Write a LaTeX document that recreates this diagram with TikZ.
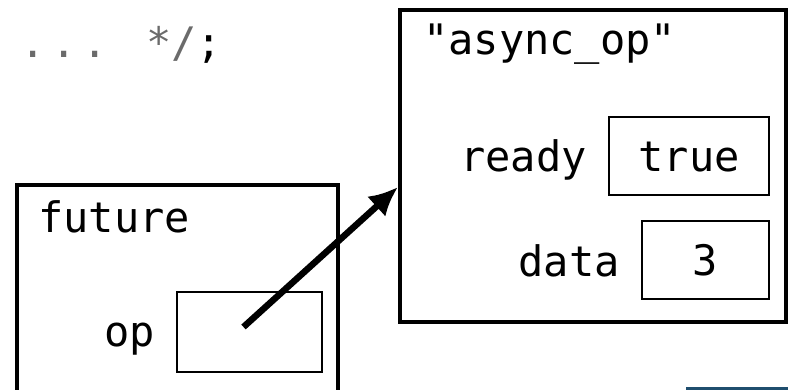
\documentclass[tikz,border=0pt]{standalone}
\usepackage{fontspec}
\setmonofont{DejaVu Sans Mono}
\usetikzlibrary{arrows.meta}
\definecolor{commentgray}{HTML}{6B6B6B}
\definecolor{edgeblue}{HTML}{1F4E6E}

\begin{document}
\begin{tikzpicture}[x=1pt, y=-1pt,
	every node/.style={font=\ttfamily\fontsize{42}{50}\selectfont},
	frame/.style={draw, line width=4pt, inner sep=0pt},
	slot/.style={draw, line width=1.8pt, inner sep=0pt, text height=32pt, text depth=0pt},
	tag/.style={anchor=base west, inner sep=0pt},
	fieldname/.style={anchor=base east, inner sep=0pt},
	pointer/.style={-{Latex[length=29pt, width=27pt]}, line width=6.5pt}]
	
	\useasboundingbox (0,0) rectangle (788,390);
	
	% end of the comment
	\node[tag, text=commentgray] (dots) at (20.4,58) {.\hspace{5.7pt}.\hspace{5.7pt}.};
	\node[tag] (closing) at (146,58) {\textcolor{commentgray}{*/};};
	
	% shared state
	\node[frame, minimum width=386pt, minimum height=312pt] (state) at (593,166) {};
	\node[tag] (statename) at (423,55) {"async\_op"};
	\node[slot, minimum width=160pt, minimum height=78pt] (readyslot) at (689,156) {true};
	\node[fieldname] (ready) at (587,172) {ready};
	\node[slot, minimum width=127pt, minimum height=78pt] (dataslot) at (705.5,260) {3};
	\node[fieldname] (data) at (620,277) {data};
	
	% future
	\node[frame, minimum width=321pt, minimum height=220pt] (future) at (177.5,295) {};
	\node[tag] (futurename) at (38,233) {future};
	\node[slot, minimum width=145pt, minimum height=80pt] (opslot) at (249.5,332) {};
	\node[fieldname] (op) at (155,347) {op};
	
	% pointer
	\draw[pointer] ([xshift=-6pt, yshift=5pt]opslot.center) -- ([yshift=-21pt]state.west);
	
	\fill[edgeblue] (686,387) rectangle (788,390);
\end{tikzpicture}
\end{document}
